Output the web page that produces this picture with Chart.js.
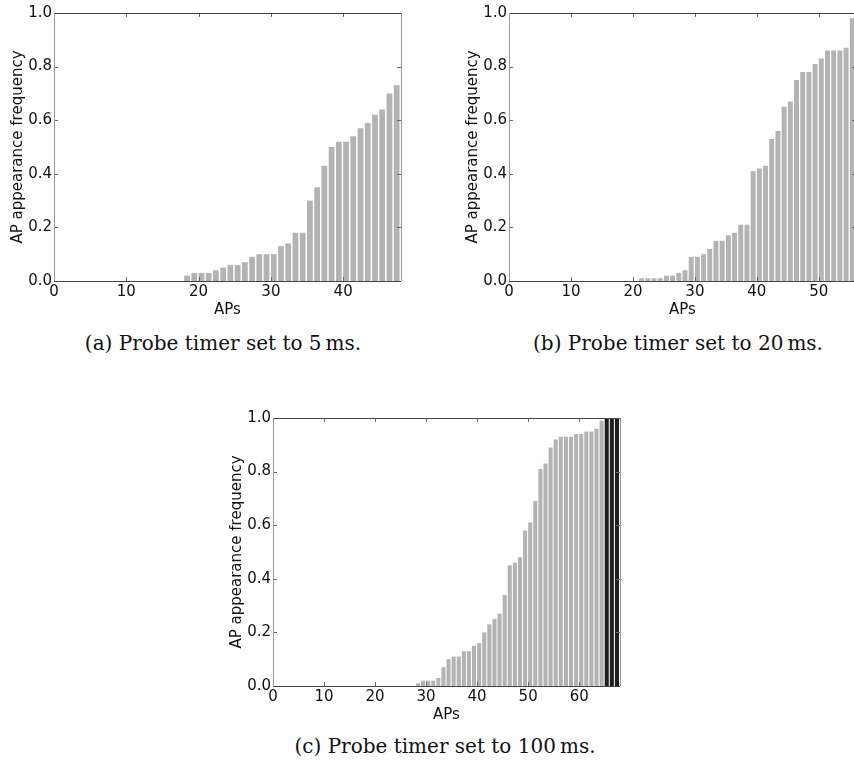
<!DOCTYPE html>
<html>
<head>
<meta charset="utf-8">
<script src="https://cdn.jsdelivr.net/npm/chart.js@4/dist/chart.umd.min.js"></script>
<style>
  html, body { margin: 0; padding: 0; background: #fff; }
  body { width: 854px; height: 760px; overflow: hidden; position: relative; }
  .panel { position: absolute; }
  .caption {
    position: absolute;
    font-family: "DejaVu Serif", serif;
    font-size: 20px;
    line-height: 24px;
    color: #111;
    white-space: nowrap;
    transform: translateX(-50%);
  }
</style>
</head>
<body>
<div class="panel" style="left:0px;top:0px"><canvas id="chartA" width="415" height="326"></canvas></div>
<div class="panel" style="left:455px;top:0px"><canvas id="chartB" width="415" height="326"></canvas></div>
<div class="panel" style="left:219px;top:405px"><canvas id="chartC" width="415" height="326"></canvas></div>
<div class="caption" style="left:223px;top:331px">(a) Probe timer set to 5&#8201;ms.</div>
<div class="caption" style="left:678px;top:331px">(b) Probe timer set to 20&#8201;ms.</div>
<div class="caption" style="left:445px;top:734px">(c) Probe timer set to 100&#8201;ms.</div>
<script>
// AP appearance frequency, sorted, one value per AP (index = AP number)
const freqA = [0, 0, 0, 0, 0, 0, 0, 0, 0, 0, 0, 0, 0, 0, 0, 0, 0, 0,
  0.02, 0.03, 0.03, 0.03, 0.04, 0.05, 0.06, 0.06, 0.07, 0.09, 0.10, 0.10, 0.10,
  0.13, 0.14, 0.18, 0.18, 0.30, 0.35, 0.43, 0.50, 0.52, 0.52, 0.54, 0.57, 0.59,
  0.62, 0.64, 0.70, 0.73];
const freqB = [0, 0, 0, 0, 0, 0, 0, 0, 0, 0, 0, 0, 0, 0, 0, 0, 0, 0, 0, 0, 0,
  0.01, 0.01, 0.01, 0.01, 0.02, 0.02, 0.03, 0.04, 0.09, 0.09, 0.10, 0.12, 0.15,
  0.15, 0.17, 0.18, 0.21, 0.21, 0.41, 0.42, 0.43, 0.53, 0.56, 0.65, 0.67, 0.75,
  0.78, 0.78, 0.81, 0.83, 0.86, 0.86, 0.86, 0.87, 0.98];
const freqC = [0, 0, 0, 0, 0, 0, 0, 0, 0, 0, 0, 0, 0, 0, 0, 0, 0, 0, 0, 0, 0,
  0, 0, 0, 0, 0, 0, 0,
  0.01, 0.02, 0.02, 0.02, 0.03, 0.07, 0.10, 0.11, 0.11, 0.13, 0.13, 0.15, 0.16,
  0.20, 0.23, 0.25, 0.27, 0.34, 0.45, 0.46, 0.48, 0.58, 0.61, 0.69, 0.81, 0.83,
  0.89, 0.92, 0.93, 0.93, 0.93, 0.94, 0.94, 0.95, 0.95, 0.96, 0.99, 1.0, 1.0, 1.0];

const xTicksA = [0, 10, 20, 30, 40];
const xTicksB = [0, 10, 20, 30, 40, 50];
const xTicksC = [0, 10, 20, 30, 40, 50, 60];
const yTicks = [0, 0.2, 0.4, 0.6, 0.8, 1.0];

const xLabel = 'APs';
const yLabel = 'AP appearance frequency';

const BAR_WIDTH = 0.8;          // matplotlib default, bars start at the AP index
const BAR_COLOR = '#b3b3b3';
const FULL_COLOR = '#1e1e1e';   // APs seen in every scan
const tickFont = { family: 'DejaVu Sans', size: 15 };

// frame and inward tick marks like matplotlib
const frameAndTicks = {
  id: 'frameAndTicks',
  afterDatasetsDraw(chart) {
    const { ctx, chartArea: a, scales: { x, y } } = chart;
    ctx.save();
    ctx.lineWidth = 1;
    ctx.strokeStyle = '#666';
    ctx.beginPath();
    x.ticks.forEach(t => {
      const px = Math.round(x.getPixelForValue(t.value)) + 0.5;
      ctx.moveTo(px, a.bottom); ctx.lineTo(px, a.bottom - 4);
      ctx.moveTo(px, a.top); ctx.lineTo(px, a.top + 4);
    });
    y.ticks.forEach(t => {
      const py = Math.round(y.getPixelForValue(t.value)) + 0.5;
      ctx.moveTo(a.left, py); ctx.lineTo(a.left + 4, py);
      ctx.moveTo(a.right, py); ctx.lineTo(a.right - 4, py);
    });
    ctx.stroke();
    ctx.strokeStyle = '#444';
    ctx.beginPath();
    ctx.moveTo(a.left, Math.round(a.top) + 0.5); ctx.lineTo(a.right, Math.round(a.top) + 0.5);
    ctx.moveTo(a.left, Math.round(a.bottom) + 0.5); ctx.lineTo(a.right, Math.round(a.bottom) + 0.5);
    ctx.stroke();
    ctx.strokeStyle = '#999';
    ctx.beginPath();
    ctx.moveTo(Math.round(a.left) + 0.5, a.top); ctx.lineTo(Math.round(a.left) + 0.5, a.bottom);
    ctx.moveTo(Math.round(a.right) + 0.5, a.top); ctx.lineTo(Math.round(a.right) + 0.5, a.bottom);
    ctx.stroke();
    ctx.restore();
  }
};

function drawPanel(id, freq, xMax, xTicks) {
  const ctx = document.getElementById(id).getContext('2d');
  return new Chart(ctx, {
    type: 'bar',
    data: {
      datasets: [{
        data: freq.map((v, i) => ({ x: i + BAR_WIDTH / 2, y: v })),
        backgroundColor: freq.map(v => (v >= 1 ? FULL_COLOR : BAR_COLOR)),
        borderWidth: 0,
        barPercentage: BAR_WIDTH,
        categoryPercentage: 1.0
      }]
    },
    options: {
      responsive: false,
      animation: false,
      layout: { padding: { top: 13, right: 14, left: 0, bottom: 0 } },
      plugins: { legend: { display: false }, tooltip: { enabled: false } },
      scales: {
        x: {
          type: 'linear',
          min: 0,
          max: xMax,
          offset: false,
          grid: { display: false, drawTicks: false, offset: false },
          border: { display: false },
          afterBuildTicks: scale => { scale.ticks = xTicks.map(value => ({ value })); },
          afterFit: scale => { scale.height = 45; },
          ticks: {
            font: tickFont, color: '#111', padding: 2, maxRotation: 0, autoSkip: false,
            callback: value => String(value)
          },
          title: {
            display: true, text: xLabel, font: tickFont, color: '#111',
            padding: { top: 0, bottom: 7 }
          }
        },
        y: {
          min: 0,
          max: 1,
          grid: { display: false, drawTicks: false },
          border: { display: false },
          afterBuildTicks: scale => { scale.ticks = yTicks.map(value => ({ value })); },
          afterFit: scale => { scale.width = 54; },
          ticks: {
            font: tickFont, color: '#111', padding: 2,
            callback: value => value.toFixed(1)
          },
          title: {
            display: true, text: yLabel, font: tickFont, color: '#111',
            padding: { top: 9, bottom: 0 }
          }
        }
      }
    },
    plugins: [frameAndTicks]
  });
}

drawPanel('chartA', freqA, 48, xTicksA);
drawPanel('chartB', freqB, 56, xTicksB);
drawPanel('chartC', freqC, 68, xTicksC);
</script>
</body>
</html>
